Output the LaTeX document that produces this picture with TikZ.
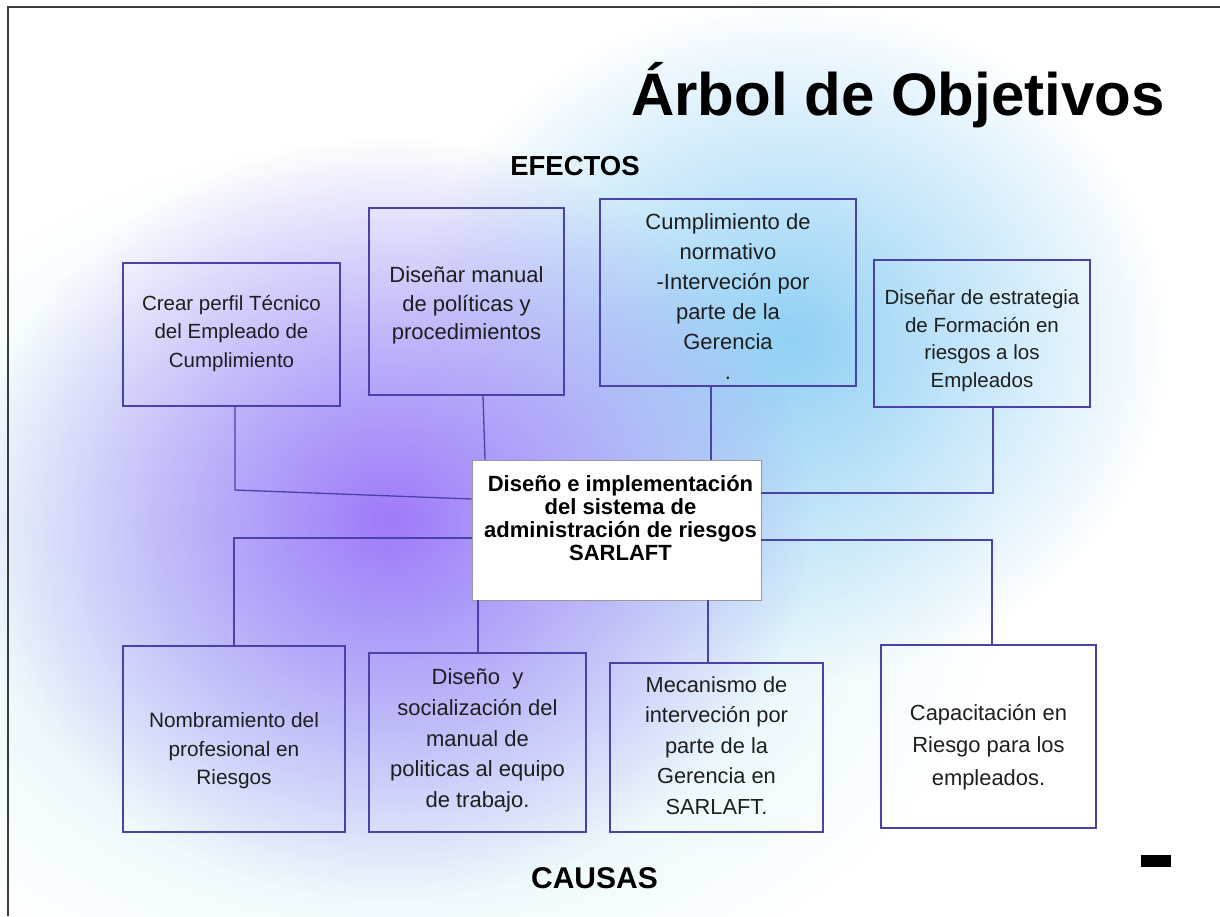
\documentclass[tikz,border=0pt]{standalone}
\usepackage{fontspec}
\setmainfont{Liberation Sans}
\usetikzlibrary{fadings}
\tikzfading[name=glowfade, inner color=transparent!0, outer color=transparent!100]
\definecolor{bord}{RGB}{75,65,170}
\definecolor{txt}{RGB}{30,30,30}
\definecolor{gpurple}{RGB}{160,122,250}
\definecolor{gblue}{RGB}{145,208,245}
\definecolor{gcyan}{RGB}{200,238,246}
\definecolor{framec}{RGB}{60,60,60}
\begin{document}
\begin{tikzpicture}[x=1pt,y=-1pt,
  bx/.style 2 args={draw=bord, line width=1.3pt, minimum width=#1pt, minimum height=#2pt, inner sep=0pt},
  cbx/.style 2 args={draw=gray!80, fill=white, line width=0.8pt, minimum width=#1pt, minimum height=#2pt, inner sep=0pt},
  tx/.style 2 args={align=center, text=txt, inner sep=0pt, font=\fontsize{#1}{#2}\selectfont},
  conn/.style={draw=bord, line width=1.3pt},
  hd/.style={text=black, inner sep=0pt, anchor=base, font=\fontsize{#1}{#1}\selectfont\bfseries}
]
\useasboundingbox (0,0) rectangle (1220,916);
\fill[white] (0,0) rectangle (1220,916);
% background glows
\fill[gcyan, path fading=glowfade] (400,580) ellipse [x radius=600pt, y radius=440pt];
\fill[gblue, path fading=glowfade] (790,340) ellipse [x radius=380pt, y radius=340pt];
\fill[gpurple, path fading=glowfade] (390,520) ellipse [x radius=420pt, y radius=380pt];
% frame
\draw[framec, line width=1.5pt] (1220,7) -- (8,7) -- (8,916);

% headings
\node[hd=60] (title) at (898,115) {Árbol de Objetivos};
\node[hd=27.5] (efectos) at (575,175) {EFECTOS};
\node[hd=30] (causas) at (594.5,888.5) {CAUSAS};

% boxes
\node[bx={217}{143}] (b1) at (231.5,334.5) {};
\node[bx={195}{187}] (b2) at (466.5,301.5) {};
\node[bx={256}{187}] (b3) at (728,292.5) {};
\node[bx={216}{147}] (b4) at (982,333.5) {};
\node[cbx={289}{140}] (c) at (616.5,530) {};
\node[bx={222}{186}] (b5) at (234,739) {};
\node[bx={217}{179}] (b6) at (477.5,742.5) {};
\node[bx={213}{169}] (b7) at (716.5,747.5) {};
\node[bx={215}{183}] (b8) at (988.5,736.5) {};

% texts
\node[tx={20.5}{28.5}] (t1) at (231.5,333) {\strut Crear perfil Técnico\\del Empleado de\\\strut Cumplimiento};
\node[tx={22}{28.5}] (t2) at (466.5,305.5) {\strut Diseñar manual\\de políticas y\\\strut procedimientos};
\node[tx={22}{30}] (t3) at (728,298) {\strut Cumplimiento de\\normativo\\\hspace*{10pt}-Interveción por\\parte de la\\Gerencia\\\strut .};
\node[tx={20.5}{27.7}] (t4) at (982,340.5) {\strut Diseñar de estrategia\\de Formación en\\riesgos a los\\\strut Empleados};
\node[tx={22}{23}, font=\fontsize{22}{23}\selectfont\bfseries, text=black] (ct) at (620.5,521.25) {\strut Diseño e implementación\\del sistema de\\administración de riesgos\\\strut SARLAFT};
\node[tx={20.8}{28.5}] (t5) at (234,750.5) {\strut Nombramiento del\\profesional en\\\strut Riesgos};
\node[tx={22}{30.75}] (t6) at (477.5,740) {\strut Diseño\ \ y\\socialización del\\manual de\\politicas al equipo\\\strut de trabajo.};
\node[tx={21.8}{30.5}] (t7) at (716.5,747) {\strut Mecanismo de\\interveción por\\parte de la\\Gerencia en\\\strut SARLAFT.};
\node[tx={21.9}{32.5}] (t8) at (988.5,746) {\strut Capacitación en\\Riesgo para los\\\strut empleados.};

% small black mark
\node[fill=black, minimum width=30pt, minimum height=12pt, inner sep=0pt] (blk) at (1156,861) {};

% connector helper coordinates
\coordinate (k1) at (235,490);
\coordinate (j1) at (0,499);
\coordinate (k2) at (483,0);
\coordinate (k2b) at (485,0);
\coordinate (k3) at (711,0);
\coordinate (k4) at (993,493);
\coordinate (k5) at (234,538);
\coordinate (k6) at (478,0);
\coordinate (k7) at (708,0);
\coordinate (k8) at (992,540);

% connectors
\draw[conn] (k1 |- b1.south) -- (k1) -- (c.west |- j1);
\draw[conn] (k2 |- b2.south) -- (k2b |- c.north);
\draw[conn] (k3 |- b3.south) -- (k3 |- c.north);
\draw[conn] (k4 |- b4.south) -- (k4) -- (c.east |- k4);
\draw[conn] (k5 |- b5.north) -- (k5) -- (c.west |- k5);
\draw[conn] (k6 |- b6.north) -- (k6 |- c.south);
\draw[conn] (k7 |- b7.north) -- (k7 |- c.south);
\draw[conn] (k8 |- b8.north) -- (k8) -- (c.east |- k8);
\end{tikzpicture}
\end{document}
